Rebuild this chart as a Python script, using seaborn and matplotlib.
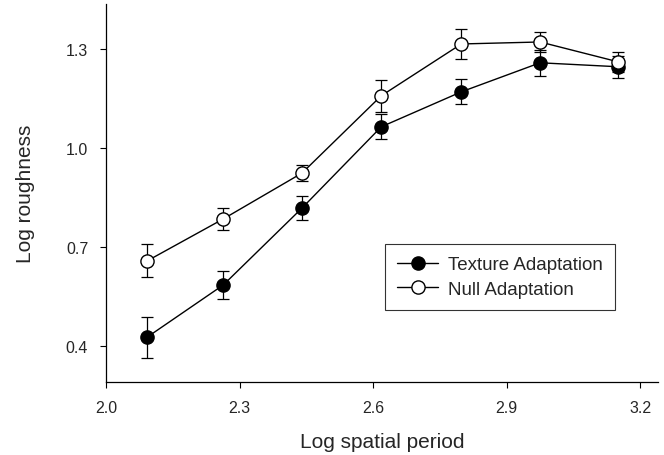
import matplotlib
matplotlib.use("Agg")
import matplotlib.pyplot as plt
import pandas as pd
import seaborn as sns

# Data
spatial_period = [2.092, 2.263, 2.440, 2.618, 2.798, 2.975, 3.150]
texture_mean = [0.427, 0.585, 0.818, 1.064, 1.170, 1.258, 1.246]
texture_err = [0.062, 0.042, 0.036, 0.038, 0.038, 0.040, 0.034]
null_mean = [0.658, 0.785, 0.924, 1.158, 1.315, 1.321, 1.261]
null_err = [0.050, 0.033, 0.025, 0.048, 0.045, 0.030, 0.030]
x_ticks = [2.0, 2.3, 2.6, 2.9, 3.2]
y_ticks = [0.4, 0.7, 1.0, 1.3]

df = pd.DataFrame({
    "x": spatial_period * 2,
    "y": texture_mean + null_mean,
    "err": texture_err + null_err,
    "cond": ["Texture Adaptation"] * 7 + ["Null Adaptation"] * 7,
})

sns.set_style("ticks")
plt.rcParams["font.family"] = ["Liberation Sans", "DejaVu Sans"]

fig = plt.figure(figsize=(6.64, 4.56), dpi=100)
ax = fig.add_axes([0.160, 0.160, 0.831, 0.829])

styles = {
    "Texture Adaptation": dict(markerfacecolor="black"),
    "Null Adaptation": dict(markerfacecolor="white"),
}
for cond, sub in df.groupby("cond", sort=False):
    ax.errorbar(sub["x"], sub["y"], yerr=sub["err"], fmt="none",
                ecolor="black", elinewidth=0.9, capsize=4, capthick=0.9, zorder=2)
    sns.lineplot(data=sub, x="x", y="y", ax=ax, color="black", linewidth=1.0,
                 marker="o", markersize=9.5, markeredgecolor="black",
                 markeredgewidth=1.0, label=cond, zorder=3, **styles[cond])

ax.set_xlim(2.0, 3.24)
ax.set_ylim(0.291, 1.436)
ax.set_xticks(x_ticks)
ax.set_yticks(y_ticks)
ax.set_xticklabels([f"{t:.1f}" for t in x_ticks], fontsize=11.5)
ax.set_yticklabels([f"{t:.1f}" for t in y_ticks], fontsize=11.5)
ax.tick_params(length=4, width=0.8, color="black", pad=9)
for s in ["top", "right"]:
    ax.spines[s].set_visible(False)
for s in ["left", "bottom"]:
    ax.spines[s].set_color("black")
    ax.spines[s].set_linewidth(0.9)

ax.set_xlabel("Log spatial period", fontsize=15, labelpad=12)
ax.set_ylabel("Log roughness", fontsize=15, labelpad=22)

leg = ax.legend(loc="upper left", bbox_to_anchor=(0.505, 0.365), frameon=True,
                fancybox=False, fontsize=13.5, handlelength=2.2,
                borderpad=0.65, labelspacing=0.4, handletextpad=0.5,
                borderaxespad=0)
leg.get_frame().set_edgecolor("black")
leg.get_frame().set_linewidth(0.8)

fig.savefig("out.png", dpi=100)
